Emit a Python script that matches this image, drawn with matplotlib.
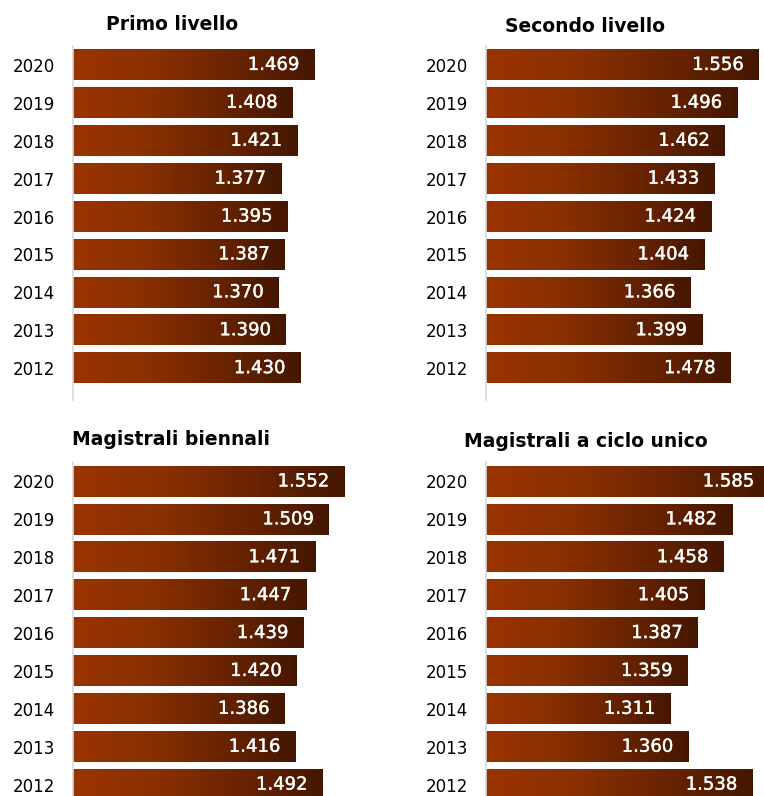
import numpy as np
import matplotlib
matplotlib.use("Agg")
import matplotlib.pyplot as plt
import matplotlib.patheffects as pe
from matplotlib.colors import LinearSegmentedColormap

# anni e valori per ciascun livello di corso
anni = ["2012", "2013", "2014", "2015", "2016", "2017", "2018", "2019", "2020"]

primo_livello = [1.430, 1.390, 1.370, 1.387, 1.395, 1.377, 1.421, 1.408, 1.469]
secondo_livello = [1.478, 1.399, 1.366, 1.404, 1.424, 1.433, 1.462, 1.496, 1.556]
magistrali_biennali = [1.492, 1.416, 1.386, 1.420, 1.439, 1.447, 1.471, 1.509, 1.552]
ciclo_unico = [1.538, 1.360, 1.311, 1.359, 1.387, 1.405, 1.458, 1.482, 1.585]

titoli = ["Primo livello", "Secondo livello", "Magistrali biennali", "Magistrali a ciclo unico"]

XMIN, XMAX = 0.8, 1.6
W, H = 764, 796

# sfumatura arancio -> marrone scuro sulle barre
sfumatura = LinearSegmentedColormap.from_list("marrone", ["#9a3400", "#8a3000", "#6a2400", "#451700"])
grad = np.linspace(0, 1, 256).reshape(1, -1)

fig = plt.figure(figsize=(W / 100, H / 100), dpi=100)
fig.patch.set_facecolor("white")


def pannello(left_px, top_px, valori, titolo, tx, ty):
    h_px = 354
    ax = fig.add_axes([left_px / W, 1 - (top_px + h_px) / H, (XMAX - XMIN) * 361 / W, h_px / H])
    y = np.arange(len(anni))
    v = np.array(valori)
    bars = ax.barh(y, v - XMIN, left=XMIN, height=0.8, color="none", edgecolor="none")
    for b, val in zip(bars, v):
        ax.imshow(grad, cmap=sfumatura, aspect="auto", interpolation="bicubic",
                  extent=[b.get_x(), b.get_x() + b.get_width(), b.get_y(), b.get_y() + b.get_height()],
                  zorder=2)
        etichetta = f"{val:.3f}"
        ax.annotate(etichetta, xy=(val, b.get_y() + b.get_height() / 2), xytext=(-11, 0),
                    textcoords="offset points", ha="right", va="center",
                    color="white", fontsize=13, zorder=3,
                    path_effects=[pe.withStroke(linewidth=0.25, foreground="white")])
    ax.set_xlim(XMIN, XMAX)
    ax.set_ylim(-0.84, 8.5)
    ax.set_yticks(y)
    ax.set_yticklabels(anni, fontsize=12)
    ax.tick_params(axis="y", length=0, pad=13)
    ax.set_xticks([])
    for s in ["top", "right", "bottom"]:
        ax.spines[s].set_visible(False)
    ax.spines["left"].set_color("#d9d9d9")
    ax.spines["left"].set_linewidth(1.2)
    ax.set_facecolor("none")
    fig.text(tx / W, 1 - ty / H, titolo, ha="center", va="center",
             fontsize=13.5, fontweight="bold", color="black")
    return ax


pannello(73, 46, primo_livello, titoli[0], 172, 25)
pannello(486, 46, secondo_livello, titoli[1], 585, 27)
pannello(73, 462.5, magistrali_biennali, titoli[2], 171, 440)
pannello(486, 462.5, ciclo_unico, titoli[3], 586, 441)

fig.savefig("out.png", dpi=100)
